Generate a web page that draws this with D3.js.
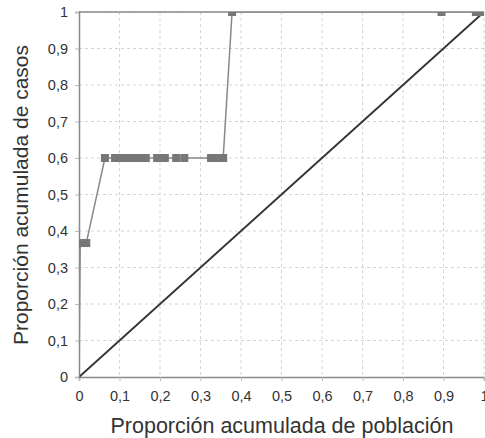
<!DOCTYPE html>
<html>
<head>
<meta charset="utf-8">
<script src="https://cdn.jsdelivr.net/npm/d3@7"></script>
<style>
  body { margin: 0; background: #fff; }
  svg { display: block; font-family: Arial, "Liberation Sans", sans-serif; }
</style>
</head>
<body>
<script>
// cumulative proportion of population (x) vs cumulative proportion of cases (y)
const popProp = [0, 0.003, 0.018, 0.064, 0.089, 0.104, 0.119, 0.134, 0.15, 0.165,
  0.193, 0.212, 0.24, 0.26, 0.326, 0.341, 0.356, 0.378, 0.895, 0.98, 1]
const caseProp = [0, 0.367, 0.367, 0.6, 0.6, 0.6, 0.6, 0.6, 0.6, 0.6,
  0.6, 0.6, 0.6, 0.6, 0.6, 0.6, 0.6, 1, 1, 1, 1]
const tickVals = [0, 0.1, 0.2, 0.3, 0.4, 0.5, 0.6, 0.7, 0.8, 0.9, 1]
const tickLabels = ['0', '0,1', '0,2', '0,3', '0,4', '0,5', '0,6', '0,7', '0,8', '0,9', '1']

const w = 485
const h = 438
const margin = { top: 12, right: 1, bottom: 61, left: 79 }
const iw = w - margin.left - margin.right
const ih = h - margin.top - margin.bottom

const svg = d3.select('body')
  .append('svg')
  .attr('width', w)
  .attr('height', h)

const g = svg.append('g')
  .attr('transform', `translate(${margin.left},${margin.top})`)

const x = d3.scaleLinear().domain([0, 1]).range([0, iw])
const y = d3.scaleLinear().domain([0, 1]).range([ih, 0])

svg.append('clipPath').attr('id', 'plot')
  .append('rect').attr('width', iw).attr('height', ih)

// grid
g.selectAll('.vgrid').data(tickVals.slice(1))
  .enter().append('line')
  .attr('x1', d => x(d)).attr('x2', d => x(d))
  .attr('y1', 0).attr('y2', ih)
  .attr('stroke', '#d4d4d4').attr('stroke-dasharray', '3,3')
g.selectAll('.hgrid').data(tickVals.slice(1))
  .enter().append('line')
  .attr('x1', 0).attr('x2', iw)
  .attr('y1', d => y(d)).attr('y2', d => y(d))
  .attr('stroke', '#d4d4d4').attr('stroke-dasharray', '3,3')

const fmt = (d, i) => tickLabels[i]

const xAxis = g.append('g')
  .attr('transform', `translate(0,${ih})`)
  .call(d3.axisBottom(x).tickValues(tickVals).tickFormat(fmt).tickSize(4).tickPadding(10))
const yAxis = g.append('g')
  .call(d3.axisLeft(y).tickValues(tickVals).tickFormat(fmt).tickSize(4).tickPadding(7))

;[xAxis, yAxis].forEach(a => {
  a.select('.domain').attr('stroke', '#888').attr('stroke-width', 1.5)
  a.selectAll('.tick line').attr('stroke', '#bbb')
  a.selectAll('text').attr('fill', '#333').style('font-size', '14.5px')
})

// top border
g.append('line')
  .attr('x1', 0).attr('x2', iw).attr('y1', 0).attr('y2', 0)
  .attr('stroke', '#888').attr('stroke-width', 1.5)

const plot = g.append('g').attr('clip-path', 'url(#plot)')

// equality line
plot.append('line')
  .attr('x1', x(0)).attr('y1', y(0))
  .attr('x2', x(1)).attr('y2', y(1))
  .attr('stroke', '#333').attr('stroke-width', 2)

const pts = popProp.map((p, i) => ({ p: p, c: caseProp[i] }))

const line = d3.line()
  .x(d => x(d.p))
  .y(d => y(d.c))

plot.append('path')
  .datum(pts)
  .attr('d', line)
  .attr('fill', 'none')
  .attr('stroke', '#888')
  .attr('stroke-width', 1.5)

plot.selectAll('.pt').data(pts.slice(1))
  .enter().append('rect')
  .attr('x', d => x(d.p) - 4)
  .attr('y', d => y(d.c) - 4)
  .attr('width', 8)
  .attr('height', 8)
  .attr('fill', '#777')

// axis titles
svg.append('text')
  .attr('x', 282)
  .attr('y', 433)
  .attr('text-anchor', 'middle')
  .attr('fill', '#333')
  .style('font-size', '21.5px')
  .text('Proporción acumulada de población')

svg.append('text')
  .attr('transform', 'translate(28,195) rotate(-90)')
  .attr('text-anchor', 'middle')
  .attr('fill', '#333')
  .style('font-size', '21px')
  .text('Proporción acumulada de casos')
</script>
</body>
</html>
